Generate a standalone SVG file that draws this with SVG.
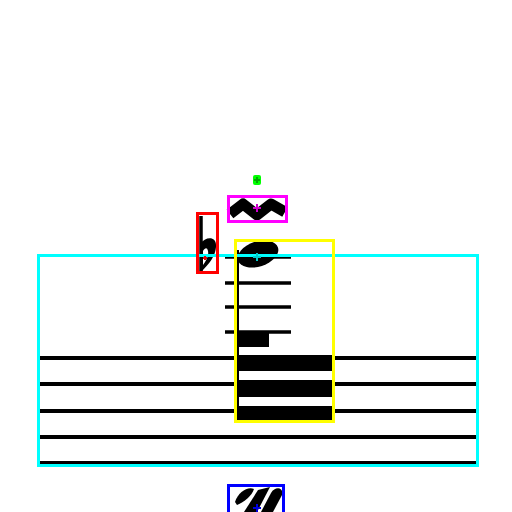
<svg xmlns="http://www.w3.org/2000/svg" width="512" height="512" viewBox="0 0 512 512">
<style>
.staff{stroke:#000;stroke-width:4}
.ledger{stroke:#000;stroke-width:3.5}
.box{fill:none;stroke-width:3}
.ink{fill:#000}
.cross{stroke-width:2}
</style>
<rect width="512" height="512" fill="#fff"/>
<g id="staff">
<line class="staff" x1="40" y1="358" x2="476" y2="358"/>
<line class="staff" x1="40" y1="384" x2="476" y2="384"/>
<line class="staff" x1="40" y1="411" x2="476" y2="411"/>
<line class="staff" x1="40" y1="437" x2="476" y2="437"/>
<line class="staff" x1="40" y1="463" x2="476" y2="463"/>
</g>
<g id="ledgers">
<line class="ledger" x1="225" y1="257" x2="291" y2="257"/>
<line class="ledger" x1="225" y1="283" x2="291" y2="283"/>
<line class="ledger" x1="225" y1="307" x2="291" y2="307"/>
<line class="ledger" x1="225" y1="332" x2="291" y2="332"/>
</g>
<g id="note">
<line x1="238" y1="250" x2="238" y2="420" stroke="#000" stroke-width="2"/>
<ellipse cx="258" cy="254" rx="21" ry="12.5" transform="rotate(-18 258 254)" class="ink"/>
<rect x="238" y="332" width="31" height="15" class="ink"/>
<rect x="238" y="355" width="95" height="16" class="ink"/>
<rect x="238" y="380" width="95" height="17" class="ink"/>
<rect x="238" y="406" width="95" height="14" class="ink"/>
</g>
<g id="flat">
<line x1="201" y1="216" x2="201" y2="272" stroke="#000" stroke-width="3.5"/>
<path d="M200 244 C206 236 217 236 216 247 C215 258 207 266 200 273 Z M203 251 L203 265 C206 261 209 256 208 251 C207 247 205 248 203 251 Z" class="ink" fill-rule="evenodd"/>
</g>
<g id="mordent">
<polyline points="230,214 243,204 257,215 271,204 285,212" fill="none" stroke="#000" stroke-width="11" stroke-linejoin="round"/>
</g>
<g id="fingering">
<path d="M235 502 C238 492 248 486 254 489 C252 496 244 502 237 505 Z" class="ink"/>
<path d="M244 512 L258 490 L270 487 L257 512 Z" class="ink"/>
<path d="M261 512 L271 493 C275 486 284 487 282 495 L273 512 Z" class="ink"/>
</g>
<g id="boxes">
<rect class="box" x="38.5" y="255.5" width="439" height="210" stroke="#00ffff"/>
<rect class="box" x="235.5" y="240.5" width="98" height="181" stroke="#ffff00"/>
<rect class="box" x="228.5" y="196.5" width="58" height="25" stroke="#ff00ff"/>
<rect class="box" x="197.5" y="213.5" width="20" height="59" stroke="#ff0000"/>
<rect class="box" x="228.5" y="485.5" width="55" height="30" stroke="#0000ff"/>
<rect x="253" y="175" width="8" height="10" rx="2" fill="#00ff00"/>
</g>
<g id="markers">
<path class="cross" stroke="#00cccc" d="M253 257 H261 M257 253 V261"/>
<path class="cross" stroke="#cc00cc" d="M253 208 H261 M257 204 V212"/>
<path class="cross" stroke="#dd0000" d="M203 258 H207 M205 256 V260"/>
<path class="cross" stroke="#00aa00" d="M254 180 H260 M257 177 V183"/>
<path class="cross" stroke="#0000dd" d="M253 508 H261 M257 504 V512"/>
</g>
</svg>
